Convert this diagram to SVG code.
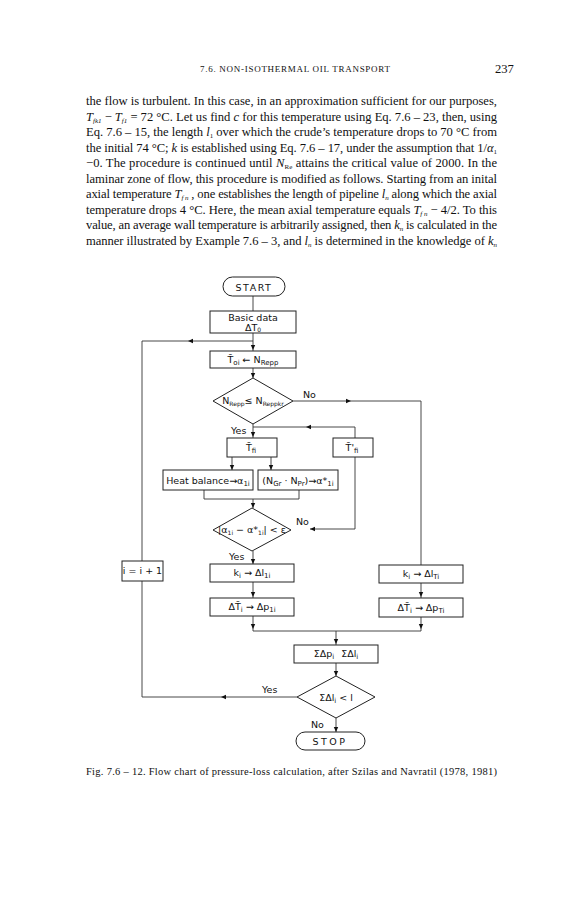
<svg xmlns="http://www.w3.org/2000/svg" xmlns:xlink="http://www.w3.org/1999/xlink" width="587" height="900" viewBox="0 0 587 900">
<style>
.body{font-family:"Liberation Serif","Times New Roman",serif;font-size:12.6px;fill:#111}
.hdr{font-family:"Liberation Serif","Times New Roman",serif;font-size:9px;fill:#111}
.cap{font-family:"Liberation Serif","Times New Roman",serif;font-size:10.5px;fill:#111}
.fc{font-family:"DejaVu Sans","Liberation Sans",sans-serif;font-size:9.5px;fill:#111;text-anchor:middle}
.lbl{font-family:"DejaVu Sans","Liberation Sans",sans-serif;font-size:9.5px;fill:#111}
.box{fill:#fff;stroke:#222;stroke-width:1}
.ln{fill:none;stroke:#333;stroke-width:0.9}
.sub{font-size:7px}
.i{font-style:italic}
</style>
<defs>
<path id="ad" d="M-2.2,-5 L2.2,-5 L0,0 Z" fill="#111"/>
</defs>
<rect width="587" height="900" fill="#fff"/>

<g id="page-text">
<text class="hdr" x="200" y="72" textLength="190" lengthAdjust="spacing">7.6. NON-ISOTHERMAL OIL TRANSPORT</text>
<text class="body" x="495" y="73" font-size="13">237</text>
<text class="body" x="86" y="105" textLength="411" lengthAdjust="spacing">the flow is turbulent. In this case, in an approximation sufficient for our purposes,</text>
<text class="body" x="86" y="120.5" textLength="411" lengthAdjust="spacing"><tspan class="i">T</tspan><tspan class="sub i" dy="2">fk1</tspan><tspan dy="-2"> − </tspan><tspan class="i">T</tspan><tspan class="sub i" dy="2">f1</tspan><tspan dy="-2"> = 72 °C. Let us find </tspan><tspan class="i">c</tspan> for this temperature using Eq. 7.6 – 23, then, using</text>
<text class="body" x="86" y="136" textLength="411" lengthAdjust="spacing">Eq. 7.6 – 15, the length <tspan class="i">l</tspan><tspan class="sub" dy="2">1</tspan><tspan dy="-2"> over which the crude’s temperature drops to 70 °C from</tspan></text>
<text class="body" x="86" y="151.5" textLength="411" lengthAdjust="spacing">the initial 74 °C; <tspan class="i">k</tspan> is established using Eq. 7.6 – 17, under the assumption that 1/<tspan class="i">α</tspan><tspan class="sub" dy="2">1</tspan></text>
<text class="body" x="86" y="167" textLength="411" lengthAdjust="spacing">−0. The procedure is continued until <tspan class="i">N</tspan><tspan class="sub" dy="2">Re</tspan><tspan dy="-2"> attains the critical value of 2000. In the</tspan></text>
<text class="body" x="86" y="182.5" textLength="411" lengthAdjust="spacing">laminar zone of flow, this procedure is modified as follows. Starting from an inital</text>
<text class="body" x="86" y="198" textLength="411" lengthAdjust="spacing">axial temperature <tspan class="i">T</tspan><tspan class="sub i" dy="2">f n</tspan><tspan dy="-2"> , one establishes the length of pipeline </tspan><tspan class="i">l</tspan><tspan class="sub i" dy="2">n</tspan><tspan dy="-2"> along which the axial</tspan></text>
<text class="body" x="86" y="213.5" textLength="411" lengthAdjust="spacing">temperature drops 4 °C. Here, the mean axial temperature equals <tspan class="i">T</tspan><tspan class="sub i" dy="2">f n</tspan><tspan dy="-2"> − 4/2. To this</tspan></text>
<text class="body" x="86" y="229" textLength="411" lengthAdjust="spacing">value, an average wall temperature is arbitrarily assigned, then <tspan class="i">k</tspan><tspan class="sub i" dy="2">n</tspan><tspan dy="-2"> is calculated in the</tspan></text>
<text class="body" x="86" y="244.5" textLength="411" lengthAdjust="spacing">manner illustrated by Example 7.6 – 3, and <tspan class="i">l</tspan><tspan class="sub i" dy="2">n</tspan><tspan dy="-2"> is determined in the knowledge of </tspan><tspan class="i">k</tspan><tspan class="sub i" dy="2">n</tspan></text>
<text class="cap" x="86" y="775" textLength="411" lengthAdjust="spacing">Fig. 7.6 – 12. Flow chart of pressure-loss calculation, after Szilas and Navratil (1978, 1981)</text>
</g>

<g id="connectors">
<path class="ln" d="M253,296 V311"/>
<path class="ln" d="M253,333 V351"/>
<path class="ln" d="M253,341 H142 V697"/>
<path class="ln" d="M253,368 V378"/>
<path class="ln" d="M293,401 H421 V565"/>
<path class="ln" d="M253,424 V438"/>
<path class="ln" d="M253,427 H355 V438"/>
<path class="ln" d="M232,457 V470 M271,457 V470"/>
<path class="ln" d="M204,490 V499 H299 V490 M253,499 V508"/>
<path class="ln" d="M355,457 V529 H310"/>
<path class="ln" d="M253,551 V564"/>
<path class="ln" d="M253,582 V598"/>
<path class="ln" d="M421,583 V598"/>
<path class="ln" d="M253,616 V631 H421 V617"/>
<path class="ln" d="M336,631 V645"/>
<path class="ln" d="M336,663 V676"/>
<path class="ln" d="M297,697 H142"/>
<path class="ln" d="M336,718 V732"/>
<use xlink:href="#ad" transform="translate(253,350)"/>
<use xlink:href="#ad" transform="translate(188,341) rotate(90)"/>
<use xlink:href="#ad" transform="translate(253,378)"/>
<use xlink:href="#ad" transform="translate(351,401) rotate(-90)"/>
<use xlink:href="#ad" transform="translate(253,437)"/>
<use xlink:href="#ad" transform="translate(306,427) rotate(90)"/>
<use xlink:href="#ad" transform="translate(232,470)"/>
<use xlink:href="#ad" transform="translate(271,470)"/>
<use xlink:href="#ad" transform="translate(253,508)"/>
<use xlink:href="#ad" transform="translate(310,529) rotate(90)"/>
<use xlink:href="#ad" transform="translate(253,564)"/>
<use xlink:href="#ad" transform="translate(253,597)"/>
<use xlink:href="#ad" transform="translate(421,597)"/>
<use xlink:href="#ad" transform="translate(253,629)"/>
<use xlink:href="#ad" transform="translate(421,629)"/>
<use xlink:href="#ad" transform="translate(336,644)"/>
<use xlink:href="#ad" transform="translate(336,676)"/>
<use xlink:href="#ad" transform="translate(221,697) rotate(90)"/>
<use xlink:href="#ad" transform="translate(336,732)"/>
</g>

<g id="labels">
<text class="lbl" x="303" y="398">No</text>
<text class="lbl" x="231" y="434">Yes</text>
<text class="lbl" x="296" y="525">No</text>
<text class="lbl" x="229" y="560">Yes</text>
<text class="lbl" x="262" y="693">Yes</text>
<text class="lbl" x="311" y="728">No</text>
</g>

<g id="start">
<rect class="box" x="223" y="277" width="62" height="19" rx="9.5"/>
<text class="fc" x="254" y="291" font-size="11" letter-spacing="1.5">START</text>
</g>
<g id="basic-data">
<rect class="box" x="210" y="311" width="86" height="22"/>
<text class="fc" x="253" y="320.5" font-size="9">Basic data</text>
<text class="fc" x="253" y="330.5" font-size="7">ΔT<tspan font-size="6" dy="1">0</tspan></text>
</g>
<g id="toi">
<rect class="box" x="210" y="351" width="86" height="17"/>
<text class="fc" x="253" y="363">T̄<tspan class="sub" dy="1.5">oi</tspan><tspan dy="-1.5"> ← N</tspan><tspan class="sub" dy="1.5">Repp</tspan></text>
</g>
<g id="decision-nrepp">
<path class="box" d="M213,401 L253,378 L293,401 L253,424 Z"/>
<text class="fc" x="253" y="404" font-size="8.3">N<tspan font-size="6" dy="2">Repp</tspan><tspan dy="-2">≤ N</tspan><tspan font-size="6" dy="2">Reppkr</tspan></text>
</g>
<g id="tfi">
<rect class="box" x="227" y="438" width="50" height="19"/>
<text class="fc" x="251" y="451">T̄<tspan class="sub" dy="1.5">fi</tspan></text>
</g>
<g id="tfi-prime">
<rect class="box" x="333" y="438" width="40" height="19"/>
<text class="fc" x="352" y="451">T̄'<tspan class="sub" dy="1.5">fi</tspan></text>
</g>
<g id="heat-balance">
<rect class="box" x="163" y="470" width="90" height="20"/>
<text class="fc" x="208" y="484" font-size="9">Heat balance→α<tspan class="sub" dy="1.5">1i</tspan></text>
</g>
<g id="ngr-npr">
<rect class="box" x="258" y="470" width="80" height="20"/>
<text class="fc" x="298" y="484" font-size="9">(N<tspan class="sub" dy="1.5">Gr</tspan><tspan dy="-1.5"> · N</tspan><tspan class="sub" dy="1.5">Pr</tspan><tspan dy="-1.5">)→α*</tspan><tspan class="sub" dy="1.5">1i</tspan></text>
</g>
<g id="decision-alpha">
<path class="box" d="M213,530 L252,508 L291,530 L252,551 Z"/>
<text class="fc" x="252" y="533" font-size="8">|α<tspan font-size="6" dy="1.5">1i</tspan><tspan dy="-1.5"> − α*</tspan><tspan font-size="6" dy="1.5">1i</tspan><tspan dy="-1.5">| &lt; ε</tspan></text>
</g>
<g id="k-dl1">
<rect class="box" x="210" y="564" width="84" height="18"/>
<text class="fc" x="252" y="576">k<tspan class="sub" dy="1.5">i</tspan><tspan dy="-1.5"> → Δl</tspan><tspan class="sub" dy="1.5">1i</tspan></text>
</g>
<g id="dt-dp1">
<rect class="box" x="210" y="598" width="84" height="18"/>
<text class="fc" x="252" y="610">ΔT̄<tspan class="sub" dy="1.5">i</tspan><tspan dy="-1.5"> → Δp</tspan><tspan class="sub" dy="1.5">1i</tspan></text>
</g>
<g id="k-dlT">
<rect class="box" x="379" y="565" width="84" height="18"/>
<text class="fc" x="421" y="577">k<tspan class="sub" dy="1.5">i</tspan><tspan dy="-1.5"> → Δl</tspan><tspan class="sub" dy="1.5">Ti</tspan></text>
</g>
<g id="dt-dpT">
<rect class="box" x="379" y="598" width="84" height="19"/>
<text class="fc" x="421" y="611">ΔT̄<tspan class="sub" dy="1.5">i</tspan><tspan dy="-1.5"> → Δp</tspan><tspan class="sub" dy="1.5">Ti</tspan></text>
</g>
<g id="sum">
<rect class="box" x="294" y="645" width="84" height="18"/>
<text class="fc" x="336" y="657">ΣΔp<tspan class="sub" dy="1.5">i</tspan><tspan dy="-1.5" dx="7">ΣΔl</tspan><tspan class="sub" dy="1.5">i</tspan></text>
</g>
<g id="increment">
<rect class="box" x="122" y="561" width="41" height="20"/>
<text class="fc" x="142.5" y="574" font-size="8">i = i + 1</text>
</g>
<g id="decision-length">
<path class="box" d="M297,697 L336,676 L375,697 L336,718 Z"/>
<text class="fc" x="336" y="701" font-size="9">ΣΔl<tspan class="sub" dy="1.5">i</tspan><tspan dy="-1.5"> &lt; l</tspan></text>
</g>
<g id="stop">
<rect class="box" x="296" y="732" width="69" height="18" rx="9"/>
<text class="fc" x="330" y="745" font-size="11" letter-spacing="2.5">STOP</text>
</g>
</svg>
